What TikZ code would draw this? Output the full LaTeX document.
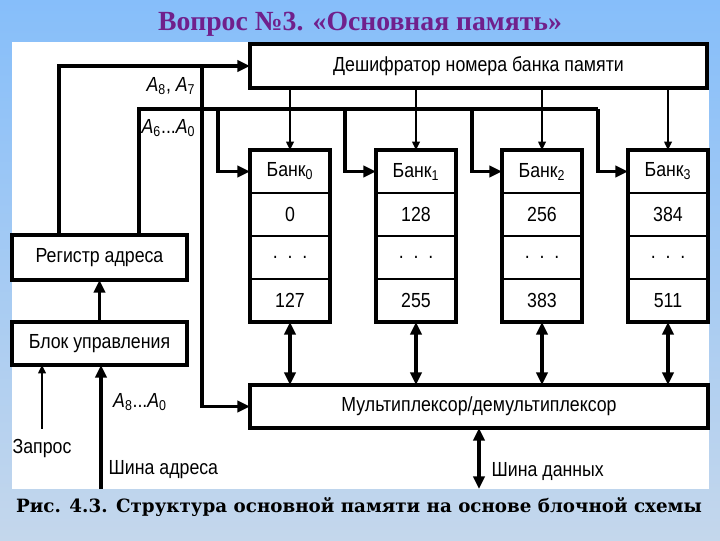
\documentclass[tikz,border=0pt]{standalone}
\usepackage{fontspec}
\setmainfont{Liberation Sans}
\newfontfamily\diagfont{Liberation Sans}[FakeStretch=0.87]
\newfontfamily\titlefont{Liberation Serif}
\newfontfamily\capfont{DejaVu Serif}
\usepackage{tikz}
\usetikzlibrary{arrows.meta, positioning}
\definecolor{slidetop}{HTML}{86BEFA}
\definecolor{slidebot}{HTML}{C4D7EC}
\definecolor{titlepurple}{HTML}{70208C}

\tikzset{
  unitbox/.style={draw, line width=3.2pt, fill=white, inner sep=0pt, outer sep=0pt,
    font=\diagfont\fontsize{14.5}{16}\selectfont},
  cell/.style={draw, line width=1.8pt, fill=white, inner sep=0pt, outer sep=0pt,
    minimum width=2cm, minimum height=1.075cm, font=\diagfont\fontsize{14.5}{16}\selectfont},
  lbl/.style={inner sep=1pt, font=\diagfont\fontsize{14.5}{16}\selectfont},
  bus/.style={line width=2.6pt},
  busarrow/.style={bus, -{Triangle[length=9pt,width=8pt]}},
  busboth/.style={bus, {Triangle[length=9pt,width=8pt]}-{Triangle[length=9pt,width=8pt]}},
  thinarrow/.style={line width=1.1pt, -{Triangle[length=6pt,width=5.5pt]}}
}

\begin{document}
\begin{tikzpicture}[x=0.025cm, y=-0.025cm]
  \useasboundingbox (0,0) rectangle (720,540);
  % --- slide background and white figure panel ---
  \shade[top color=slidetop, bottom color=slidebot] (0,0) rectangle (720,540);
  \fill[white] (12,42) rectangle (709,489);
  \node[font=\titlefont\bfseries\fontsize{19.7}{22}\selectfont, text=titlepurple] (title) at (360,24)
    {Вопрос №3. «Основная память»};
  \node[font=\capfont\bfseries\fontsize{13}{15}\selectfont] (caption) at (359,507)
    {Рис. 4.3. Структура основной памяти на основе блочной схемы};
  % --- main units ---
  \node[unitbox, minimum width=11.425cm, minimum height=1.1cm] (dec) at (478.5,66)
    {Дешифратор номера банка памяти};
  \node[unitbox, minimum width=11.45cm, minimum height=1.075cm] (mux) at (479,406.5)
    {Мультиплексор/демультиплексор};
  \node[unitbox, minimum width=4.375cm, minimum height=1.125cm] (reg) at (99.5,257.5)
    {Регистр адреса};
  \node[unitbox, minimum width=4.375cm, minimum height=1.075cm] (ctl) at (99.5,343.5)
    {Блок управления};
  \draw[busarrow] (ctl) -- (reg);
  % --- address lines from the register ---
  \coordinate (split) at (202,66);
  \draw[busarrow] ([xshift=-1.01cm]reg.north) |- (dec.west);
  \draw[busarrow] (split) |- (mux.west);
  \node[lbl, anchor=east] (hiaddr) at (197,86) {\textit{A}\textsubscript{8}, \textit{A}\textsubscript{7}};
  \node[lbl, anchor=east] (loaddr) at (197,128) {\textit{A}\textsubscript{6}...\textit{A}\textsubscript{0}};
  % --- four memory banks ---
  \foreach \i/\x/\bx/\lo/\hi in {0/290/218/0/127, 1/416/345/128/255,
        2/542/472/256/383, 3/668/598/384/511}{
    \node[cell] (bank\i) at (\x,171.5) {Банк\textsubscript{\i}};
    \node[cell, below=0pt of bank\i] (first\i) {\lo};
    \node[cell, below=0pt of first\i] (dots\i) {.\ \ .\ \ .};
    \node[cell, below=0pt of dots\i] (last\i) {\hi};
    \draw[line width=3.2pt] (bank\i.north west) rectangle (last\i.south east);
    \coordinate (tap\i) at (\bx,109);
    \draw[busarrow] (tap\i) |- (bank\i.west);
    \draw[thinarrow] (dec.south -| bank\i.north) -- (bank\i.north);
    \draw[busboth] (last\i.south) -- (mux.north -| last\i.south);
  }
  \draw[bus] ([xshift=0.99cm]reg.north) |- (tap3);
  % --- inputs of the control block ---
  \node[lbl] (request) at (42,448) {Запрос};
  \draw[thinarrow] ([yshift=6pt]request.north) -- (request.north |- ctl.south);
  \coordinate (busend) at (101,489);
  \draw[busarrow] (busend) -- (busend |- ctl.south);
  \node[lbl] (busaddr) at (140,402) {\textit{A}\textsubscript{8}...\textit{A}\textsubscript{0}};
  \node[lbl, anchor=west] (addrbus) at (107,470) {Шина адреса};
  % --- data bus ---
  \coordinate (dataend) at (478,489);
  \draw[busboth] (mux.south) -- (mux.south |- dataend);
  \node[lbl, anchor=west] (databus) at (490,472) {Шина данных};
\end{tikzpicture}
\end{document}
